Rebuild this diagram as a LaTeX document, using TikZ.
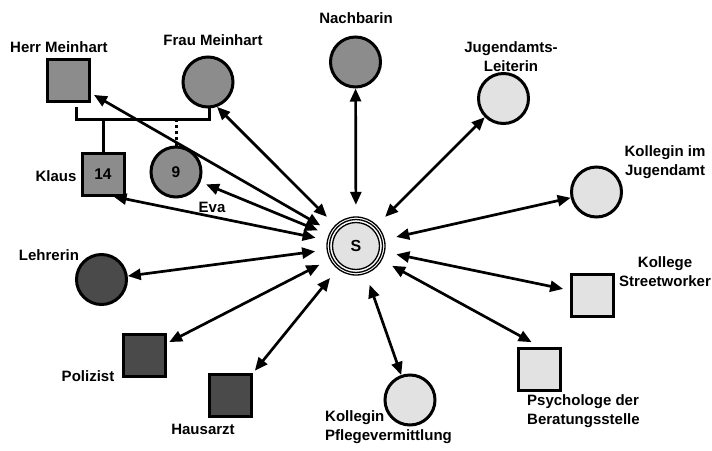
\documentclass[tikz,border=0pt]{standalone}
\usepackage{fontspec}
\setmainfont{Liberation Sans}
\usetikzlibrary{arrows.meta}
\definecolor{famgray}{HTML}{8C8C8C}
\definecolor{lightg}{HTML}{E2E2E2}
\definecolor{darkg}{HTML}{4A4A4A}
\begin{document}
\begin{tikzpicture}[x=1pt,y=-1pt,
  person/.style={draw=black,line width=3pt,font=\fontsize{15.5}{18}\selectfont\bfseries},
  sq/.style={person,rectangle,minimum size=42pt,inner sep=0pt},
  ci/.style={person,circle,minimum size=50pt,inner sep=0pt},
  lbl/.style={font=\fontsize{15}{19}\selectfont\bfseries,inner sep=0pt,align=center},
  tip/.tip={Triangle[length=13pt,width=11pt]},
  arr/.style={tip-tip,line width=2.7pt},
  fam/.style={line width=3pt},
  ring/.style={line width=1.3pt}]
\useasboundingbox (0,0) rectangle (712,450);
\fill[white] (0,0) rectangle (712,450);

% central person
\node[circle,fill=lightg,draw=black,line width=1.3pt,minimum size=47pt,inner sep=0pt,
      font=\fontsize{16}{18}\selectfont\bfseries] (S) at (356,246) {S};
\draw[ring] (S.center) circle[radius=26.5];
\draw[ring] (S.center) circle[radius=29];
\node[circle,minimum size=82pt,inner sep=0pt] (Sr) at (356,246) {};

% family
\node[sq,fill=famgray] (Herr) at (68,80) {};
\node[ci,fill=famgray] (Frau) at (208,82) {};
\node[sq,fill=famgray] (Klaus) at (103,174) {\raisebox{-3pt}{14}};
\node[ci,fill=famgray] (Eva) at (176,172) {\raisebox{-3pt}{9}};
\coordinate (hmA) at (76,107);
\coordinate (fmA) at (209,107);
\coordinate (klA) at (103,119);
\coordinate (evA) at (176,119);
\draw[fam] (hmA) |- (fmA |- klA) -- (fmA);
\draw[fam] (klA) -- (Klaus.north);
\draw[fam,dash pattern=on 3pt off 3pt] (evA) -- (Eva.north);

% others
\node[ci,fill=famgray] (Nach) at (355.5,62) {};
\node[ci,fill=lightg] (JL) at (503.5,98.5) {};
\node[ci,fill=lightg] (KJ) at (596.5,192) {};
\node[sq,fill=lightg] (KS) at (592.5,295) {};
\node[sq,fill=lightg] (Psy) at (539.5,369) {};
\node[ci,fill=lightg] (KP) at (410,400) {};
\node[ci,fill=darkg] (Leh) at (101.5,279.5) {};
\node[sq,fill=darkg] (Pol) at (144,355) {};
\node[sq,fill=darkg] (Haus) at (230.5,395.5) {};

% labels
\node[lbl] (lHerr) at (59,47) {Herr Meinhart};
\node[lbl] (lFrau) at (213,40) {Frau Meinhart};
\node[lbl] (lNach) at (356,18) {Nachbarin};
\node[lbl] (lJL) at (511,56.5) {Jugendamts-\\Leiterin};
\node[lbl] (lKJ) at (665,162) {Kollegin im\\Jugendamt};
\node[lbl] (lKS) at (665,272) {Kollege\\Streetworker};
\node[lbl,align=left,anchor=west] (lPsy) at (527,411) {Psychologe der\\Beratungsstelle};
\node[lbl,align=left,anchor=west] (lKP) at (325,427) {Kollegin\\Pflegevermittlung};
\node[lbl] (lKlaus) at (56,176) {Klaus};
\node[lbl] (lEva) at (212,207) {Eva};
\node[lbl] (lLeh) at (49,255) {Lehrerin};
\node[lbl] (lPol) at (88,376) {Polizist};
\node[lbl] (lHaus) at (203,429) {Hausarzt};

% connectors
\draw[arr,shorten >=4pt] (Sr) -- (Herr);
\draw[arr] (Sr) -- (Frau.-70);
\draw[arr] (Sr) -- (Klaus.-65);
\draw[arr,shorten >=6pt] (Sr) -- (Eva);
\draw[arr] (Sr) -- (Nach);
\draw[arr] (Sr) -- (JL);
\draw[arr] (Sr) -- (KJ);
\draw[arr,shorten >=7pt] (Sr) -- (KS);
\draw[arr,shorten >=9pt] (Sr) -- (Psy.north);
\draw[arr] (Sr) -- (KP);
\draw[arr] (Sr) -- (Leh);
\draw[arr,shorten >=3pt] (Sr) -- (Pol);
\draw[arr,shorten >=3pt] (Sr) -- (Haus.north east);
\end{tikzpicture}
\end{document}
